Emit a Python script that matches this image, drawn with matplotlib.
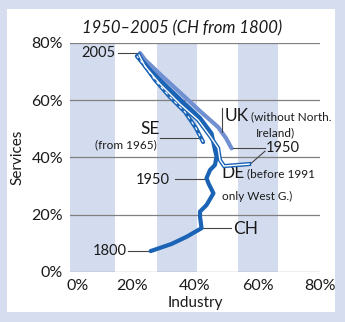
import matplotlib
matplotlib.use('Agg')
import matplotlib.pyplot as plt
from matplotlib.transforms import ScaledTranslation

# industry share (%) vs services share (%)
ch_industry = [25.8, 32.5, 37.3, 42.1, 41.6, 41.6, 43.7, 45.9, 44.3, 43.7,
               44.8, 46.4, 46.9, 46.4, 45.3, 41.6, 36.8, 31.4, 25.6, 22.1]
ch_services = [7.3, 9.8, 12.3, 15.3, 19.3, 21.1, 23.4, 27.5, 31.0, 32.8,
               35.6, 37.4, 40.3, 42.6, 48.4, 53.8, 58.7, 64.3, 70.6, 75.1]

se_industry = [42.6, 40.3, 36.8, 32.0, 27.2, 24.0, 21.4]
se_services = [45.4, 50.3, 55.9, 61.1, 67.1, 72.0, 75.4]

de_industry = [57.3, 49.3, 48.0, 47.4, 44.8, 41.0, 35.2, 28.8, 24.0, 22.1]
de_services = [37.7, 37.0, 39.1, 43.3, 47.5, 53.1, 58.7, 65.7, 71.9, 75.8]

uk_industry = [51.7, 49.9, 47.4, 41.6, 36.8, 29.4, 24.0, 22.4]
uk_services = [43.2, 46.8, 50.6, 56.2, 61.1, 68.5, 74.1, 76.5]

ticks = [0, 20, 40, 60, 80]
tick_labels = ['0%', '20%', '40%', '60%', '80%']

dark = '#1a63b5'
light = '#7090d2'
band = '#d3dcee'
ink = '#1a1a1a'

plt.rcParams['font.family'] = ['Lato', 'DejaVu Sans']

fig = plt.figure(figsize=(3.45, 3.22), dpi=100)
fig.patch.set_facecolor('#d5ddee')

# white panel behind the chart
bg = fig.add_axes([0.0203, 0.031, 0.9507, 0.941], zorder=0)
bg.set_facecolor('white')
bg.set_xticks([])
bg.set_yticks([])
for s in bg.spines.values():
    s.set_visible(False)

ax = fig.add_axes([0.2029, 0.1553, 0.7246, 0.7112], zorder=1)
ax.set_facecolor('none')
ax.set_xlim(0, 80)
ax.set_ylim(0, 80)
for s in ax.spines.values():
    s.set_visible(False)

# decorative column bands
for x0, x1 in [(0, 14.4), (27.8, 40.6), (53.8, 66.6)]:
    ax.axvspan(x0, x1, color=band, lw=0, zorder=0)
for y in ticks:
    ax.axhline(y, color='#808080', lw=0.9, zorder=1)

ax.set_xticks(ticks)
ax.set_xticklabels(tick_labels, fontsize=11.5)
ax.set_yticks(ticks)
ax.set_yticklabels(tick_labels, fontsize=11.5)
ax.tick_params(length=0, pad=5, colors=ink)
lbl0 = ax.get_xticklabels()[0]
lbl0.set_transform(lbl0.get_transform() + ScaledTranslation(0.08, 0, fig.dpi_scale_trans))

ax.set_xlabel('Industry', fontsize=11, color=ink, labelpad=2)
ax.set_ylabel('Services', fontsize=11, color=ink, labelpad=5)
ax.text(0.048, 1.065, '1950\u20132005 (CH from 1800)', transform=ax.transAxes,
        fontsize=12, style='italic', color=ink, va='center', ha='left')

# lines
ax.plot(ch_industry, ch_services, color=dark, lw=3.0, solid_capstyle='round',
        solid_joinstyle='round', zorder=3)
ax.plot(se_industry, se_services, color=dark, lw=3.0, solid_capstyle='round', zorder=4)
ax.plot(se_industry, se_services, color='white', lw=0.8, dashes=(3, 3), zorder=5)
ax.plot(de_industry, de_services, color=dark, lw=3.0, solid_joinstyle='miter', zorder=4)
ax.plot(de_industry, de_services, color='white', lw=1.0, solid_joinstyle='miter', zorder=5)
ax.plot(uk_industry, uk_services, color=light, lw=3.0, solid_capstyle='round',
        solid_joinstyle='round', zorder=2)

# annotations
lk = dict(color='#444444', lw=0.8, zorder=2)
fs = 10.5
big = 12.5
small = 8.5
ax.plot([15.4, 21.8], [76.5, 76.5], **lk)
ax.text(14.4, 76.5, '2005', fontsize=fs, ha='right', va='center', color=ink)

ax.plot([48.6, 48.6], [48.9, 57.3], **lk)
ax.text(49.6, 54.5, 'UK', fontsize=big, ha='left', va='center', color=ink)
ax.text(57.9, 54.3, '(without North.', fontsize=small, ha='left', va='center', color=ink)
ax.text(59.6, 48.6, 'Ireland)', fontsize=small, ha='left', va='center', color=ink)

ax.plot([52.2, 62.4], [43.3, 43.3], **lk)
ax.plot([57.6, 62.4], [37.6, 42.2], **lk)
ax.text(62.7, 43.3, '1950', fontsize=fs, ha='left', va='center', color=ink)

ax.text(25.6, 49.8, 'SE', fontsize=big, ha='center', va='center', color=ink)
ax.text(17.8, 44.4, '(from 1965)', fontsize=small, ha='center', va='center', color=ink)
ax.plot([28.8, 41.0], [46.7, 46.7], **lk)

ax.plot([33.6, 43.8], [32.5, 32.5], **lk)
ax.text(32.0, 32.2, '1950', fontsize=fs, ha='right', va='center', color=ink)

ax.text(48.6, 34.6, 'DE', fontsize=big, ha='left', va='center', color=ink)
ax.text(56.6, 34.4, '(before 1991', fontsize=small, ha='left', va='center', color=ink)
ax.text(48.6, 26.4, 'only West G.)', fontsize=small, ha='left', va='center', color=ink)

ax.plot([42.1, 51.5], [15.3, 15.3], **lk)
ax.text(52.2, 15.0, 'CH', fontsize=big, ha='left', va='center', color=ink)

ax.plot([18.6, 25.6], [7.3, 7.3], **lk)
ax.text(18.2, 7.3, '1800', fontsize=fs, ha='right', va='center', color=ink)

fig.savefig('out.png', dpi=100)
